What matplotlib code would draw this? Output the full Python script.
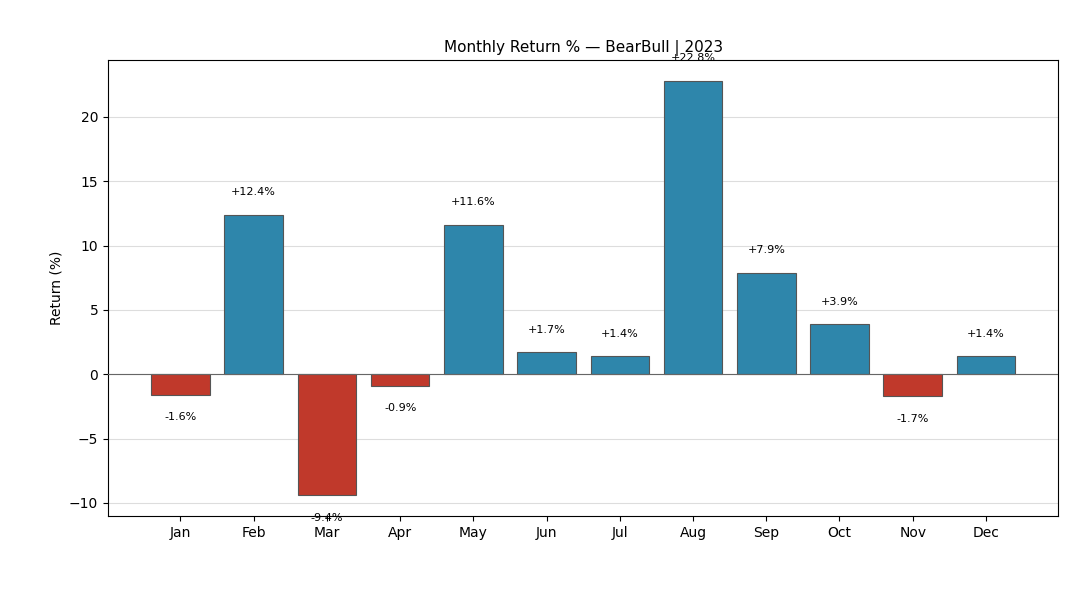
import matplotlib
matplotlib.use("Agg")
import matplotlib.pyplot as plt

months = ["Jan", "Feb", "Mar", "Apr", "May", "Jun",
          "Jul", "Aug", "Sep", "Oct", "Nov", "Dec"]
returns = [-1.6, 12.4, -9.4, -0.9, 11.6, 1.7, 1.4, 22.8, 7.9, 3.9, -1.7, 1.4]

fig = plt.figure(figsize=(10.8, 6), dpi=100)
ax = fig.add_axes([0.1, 0.14, 0.88, 0.76])

colors = ["#2E86AB" if r >= 0 else "#C0392B" for r in returns]
x = range(len(months))
ax.bar(x, returns, width=0.8, color=colors, edgecolor="#555555", linewidth=0.8, zorder=3)
ax.axhline(0, color="#666666", linewidth=0.8, zorder=4)

for i, r in enumerate(returns):
    off = 1.75 if r >= 0 else -1.75
    ax.text(i, r + off, f"{r:+.1f}%", ha="center", va="center", fontsize=8, zorder=5)

ax.set_xticks(list(x))
ax.set_xticklabels(months)
ax.set_ylabel("Return (%)")
ax.set_title("Monthly Return % — BearBull | 2023", fontsize=11)
ax.grid(axis="y", color="#dddddd", linewidth=0.8, zorder=0)
ax.set_axisbelow(True)

fig.savefig("out.png", dpi=100)
